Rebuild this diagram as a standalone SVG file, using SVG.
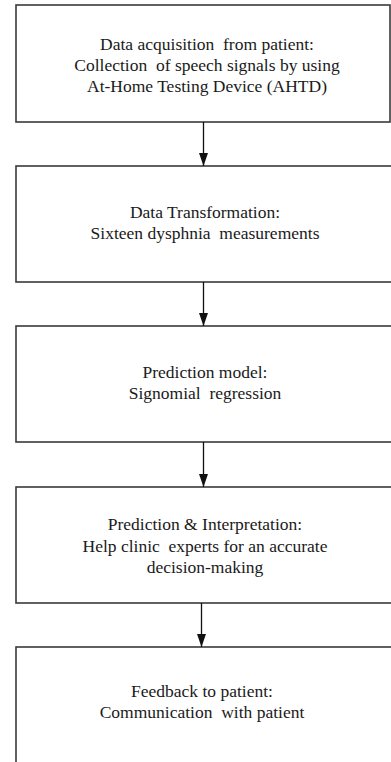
<svg xmlns="http://www.w3.org/2000/svg" width="391" height="762" viewBox="0 0 391 762">
<defs>
<style>
.box{fill:#fff;stroke:#3a3a3a;stroke-width:1.6}
.lbl{font-size:17.5px;fill:#1a1a1a;text-anchor:middle}
.edge{stroke:#111;stroke-width:1.3;fill:none}
</style>
<marker id="ah" markerUnits="userSpaceOnUse" markerWidth="14" markerHeight="9" refX="13" refY="4.5" orient="auto">
<path d="M0,0 L13,4.5 L0,9 Z" fill="#111"/>
</marker>
</defs>
<rect width="391" height="762" fill="#fff"/>
<g id="n1">
<rect class="box" x="16" y="5" width="374" height="117"/>
<text class="lbl" font-family="Liberation Serif, DejaVu Serif, serif" xml:space="preserve"><tspan x="207" y="50">Data acquisition  from patient:</tspan><tspan x="207" y="71">Collection  of speech signals by using</tspan><tspan x="207" y="92">At-Home Testing Device (AHTD)</tspan></text>
</g>
<g id="n2">
<rect class="box" x="16" y="166" width="377" height="116"/>
<text class="lbl" font-family="Liberation Serif, DejaVu Serif, serif" xml:space="preserve"><tspan x="205" y="218">Data Transformation:</tspan><tspan x="205" y="239">Sixteen dysphnia  measurements</tspan></text>
</g>
<g id="n3">
<rect class="box" x="16" y="326" width="377" height="116"/>
<text class="lbl" font-family="Liberation Serif, DejaVu Serif, serif" xml:space="preserve"><tspan x="205" y="378">Prediction model:</tspan><tspan x="205" y="399">Signomial  regression</tspan></text>
</g>
<g id="n4">
<rect class="box" x="16" y="487" width="377" height="116"/>
<text class="lbl" font-family="Liberation Serif, DejaVu Serif, serif" xml:space="preserve"><tspan x="205" y="530">Prediction &amp; Interpretation:</tspan><tspan x="205" y="552">Help clinic  experts for an accurate</tspan><tspan x="205" y="573">decision-making</tspan></text>
</g>
<g id="n5">
<rect class="box" x="16" y="647" width="377" height="120"/>
<text class="lbl" font-family="Liberation Serif, DejaVu Serif, serif" xml:space="preserve"><tspan x="202" y="697">Feedback to patient:</tspan><tspan x="202" y="718">Communication  with patient</tspan></text>
</g>
<g id="connectors">
<line class="edge" x1="203.5" y1="122" x2="203.5" y2="166" marker-end="url(#ah)"/>
<line class="edge" x1="203.5" y1="282" x2="203.5" y2="326" marker-end="url(#ah)"/>
<line class="edge" x1="203.5" y1="442" x2="203.5" y2="487" marker-end="url(#ah)"/>
<line class="edge" x1="201.5" y1="603" x2="201.5" y2="647" marker-end="url(#ah)"/>
</g>
</svg>
